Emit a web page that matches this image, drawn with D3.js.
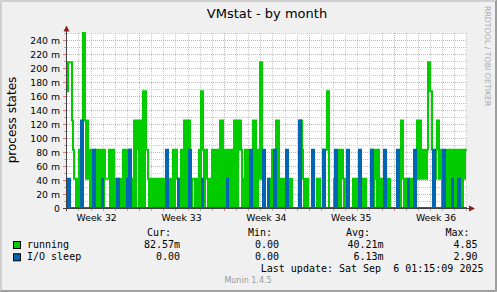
<!DOCTYPE html>
<html>
<head>
<meta charset="utf-8">
<script src="https://cdn.jsdelivr.net/npm/d3@7"></script>
<style>
body { margin: 0; background: #f0f0f0; }
svg text { font-family: "DejaVu Sans", sans-serif; fill: #000; }
svg text.mono { font-family: "DejaVu Sans Mono", monospace; font-size: 10px; white-space: pre; }
</style>
</head>
<body>
<svg id="chart" width="497" height="292"></svg>
<script>
// values, in 1/24 steps (2h averages of 5 min samples)
var runningLevels =
  "4555532110 1020006631 3120200020 2202020211 1120202010 0010102020 2022010303 2303204042 " +
  "2101010101 0101011000 0010102022 1001202303 3030011101 0120442022 1010120220 2023032020 " +
  "2020210303 0323201020 2000003032 0215510000 0010120203 0310101010 1010100000 0003321010 " +
  "1000000000 1010002022 4400000100 0020221010 0000001010 1001010110 0000220212 0210110000 " +
  "1010000000 0010331011 0001010001 3213212121 2554421212 3312100010 2020212020 2021202122";
var ioSleepLevels =
  "0110000000 0000330000 0000002200 0000010000 0000000000 1100000000 1022000000 0000000000 " +
  "0000000000 0000000002 2000000000 0100000000 0022000000 0000010000 0000000000 0000000000 " +
  "1000000000 0000000000 0002200000 0000002200 0100000220 0000000002 2000000000 0033000000 " +
  "0000022000 0000002200 0000000022 0000000000 2200000000 0022000000 0000220000 0000000220 " +
  "0000000000 2200000000 0100000220 0000000000 0000002200 0000002200 0000010000 0110000000";

var yTickValues = [0, 0.02, 0.04, 0.06, 0.08, 0.10, 0.12, 0.14, 0.16, 0.18, 0.20, 0.22, 0.24];
var legendNames = ["running", "I/O sleep"];
var legendColors = ["#00cc00", "#0066b3"];
var legendCur = ["82.57m", "0.00"];
var legendMin = ["0.00", "0.00"];
var legendAvg = ["40.21m", "6.13m"];
var legendMax = ["4.85", "2.90"];

var startTime = new Date(2025, 7, 5, 1, 15, 9);
var endTime = new Date(2025, 8, 7, 1, 15, 9);

function parseLevels(s) {
  return s.replace(/\s/g, "").split("").map(function (c) { return +c / 24; });
}
var running = parseLevels(runningLevels);
var ioSleep = parseLevels(ioSleepLevels);

var svg = d3.select("#chart");
var x = d3.scaleTime().domain([startTime, endTime]).range([67, 467]);
var y = d3.scaleLinear().domain([0, 0.25]).range([208, 33]);

// frame
svg.append("rect").attr("width", 497).attr("height", 292).attr("fill", "#f0f0f0");
svg.append("path").attr("d", "M0.5,291V0.5H496").attr("fill", "none").attr("stroke", "#cfcfcf");
svg.append("path").attr("d", "M1.5,290V1.5H495").attr("fill", "none").attr("stroke", "#cfcfcf");
svg.append("path").attr("d", "M1,290.5H495.5V1").attr("fill", "none").attr("stroke", "#9e9e9e");
svg.append("path").attr("d", "M0,291.5H496.5V0").attr("fill", "none").attr("stroke", "#9e9e9e");

svg.append("rect").attr("x", 67).attr("y", 33).attr("width", 400).attr("height", 175).attr("fill", "#fff");

// horizontal grid
var minorY = d3.range(1, 26).map(function (k) { return k / 100; });
svg.append("g").selectAll("line").data(minorY.filter(function (v, i) { return i % 2 === 0; }))
  .join("line")
  .attr("x1", 67).attr("x2", 467)
  .attr("y1", function (d) { return Math.round(y(d)) + 0.5; })
  .attr("y2", function (d) { return Math.round(y(d)) + 0.5; })
  .attr("stroke", "#c8c8c8").attr("stroke-dasharray", "1,1");
svg.append("g").selectAll("line").data(yTickValues.slice(1))
  .join("line")
  .attr("x1", 67).attr("x2", 467)
  .attr("y1", function (d) { return Math.round(y(d)) + 0.5; })
  .attr("y2", function (d) { return Math.round(y(d)) + 0.5; })
  .attr("stroke", "#f0a0a0").attr("stroke-dasharray", "1,1");

// vertical grid
var days = d3.timeDay.range(d3.timeDay.ceil(startTime), endTime);
var mondays = days.filter(function (d) { return d.getDay() === 1; });
var otherDays = days.filter(function (d) { return d.getDay() !== 1; });
svg.append("g").selectAll("line").data(otherDays)
  .join("line")
  .attr("x1", function (d) { return Math.round(x(d)) + 0.5; })
  .attr("x2", function (d) { return Math.round(x(d)) + 0.5; })
  .attr("y1", 33).attr("y2", 208)
  .attr("stroke", "#c8c8c8").attr("stroke-dasharray", "1,1");
svg.append("g").selectAll("line").data(mondays)
  .join("line")
  .attr("x1", function (d) { return Math.round(x(d)) + 0.5; })
  .attr("x2", function (d) { return Math.round(x(d)) + 0.5; })
  .attr("y1", 33).attr("y2", 208)
  .attr("stroke", "#f0a0a0").attr("stroke-dasharray", "1,1");

// series
var slotMs = (endTime - startTime) / running.length;
function points(vals) {
  var p = vals.map(function (v, i) { return { t: new Date(+startTime + i * slotMs), v: v }; });
  p.push({ t: endTime, v: vals[vals.length - 1] });
  return p;
}
var line = d3.line()
  .x(function (d) { return x(d.t); })
  .y(function (d) { return y(d.v); })
  .curve(d3.curveStepAfter);

svg.append("path").datum(points(running)).attr("d", line)
  .attr("fill", "none").attr("stroke", legendColors[0]).attr("stroke-width", 2);
svg.append("path").datum(points(ioSleep)).attr("d", line)
  .attr("fill", "none").attr("stroke", legendColors[1]).attr("stroke-width", 2);

// ticks
svg.append("g").selectAll("line").data(otherDays).join("line")
  .attr("x1", function (d) { return Math.round(x(d)) + 0.5; })
  .attr("x2", function (d) { return Math.round(x(d)) + 0.5; })
  .attr("y1", 209).attr("y2", 211).attr("stroke", "#b0b0b0");
svg.append("g").selectAll("line").data(mondays).join("line")
  .attr("x1", function (d) { return Math.round(x(d)) + 0.5; })
  .attr("x2", function (d) { return Math.round(x(d)) + 0.5; })
  .attr("y1", 209).attr("y2", 211).attr("stroke", "#f07070");
svg.append("g").selectAll("line").data(minorY.filter(function (v, i) { return i % 2 === 0; })).join("line")
  .attr("x1", 64).attr("x2", 66)
  .attr("y1", function (d) { return Math.round(y(d)) + 0.5; })
  .attr("y2", function (d) { return Math.round(y(d)) + 0.5; })
  .attr("stroke", "#b0b0b0");
svg.append("g").selectAll("line").data(yTickValues.slice(1)).join("line")
  .attr("x1", 63).attr("x2", 66)
  .attr("y1", function (d) { return Math.round(y(d)) + 0.5; })
  .attr("y2", function (d) { return Math.round(y(d)) + 0.5; })
  .attr("stroke", "#f07070");

// axes
svg.append("line").attr("x1", 66.5).attr("x2", 66.5).attr("y1", 211).attr("y2", 30).attr("stroke", "#404040");
svg.append("line").attr("x1", 63).attr("x2", 470).attr("y1", 208.5).attr("y2", 208.5).attr("stroke", "#404040");
svg.append("path").attr("d", "M63.5,31.5L66.5,25.5L69.5,31.5Z").attr("fill", "#8b1c1c");
svg.append("path").attr("d", "M469,205.5L475,208.5L469,211.5Z").attr("fill", "#8b1c1c");

// labels
svg.append("g").selectAll("text").data(yTickValues).join("text")
  .attr("x", 60).attr("y", function (d) { return y(d) + 3.5; })
  .attr("text-anchor", "end").attr("font-size", "9.3px")
  .text(function (d) { return d === 0 ? "0" : Math.round(d * 1000) + " m"; });

var weekFmt = d3.timeFormat("%V");
var weeks = d3.timeMonday.range(d3.timeMonday.floor(startTime), endTime)
  .map(function (m) { return d3.timeHour.offset(m, 84); })
  .filter(function (c) { return c > startTime && c < endTime; });
svg.append("g").selectAll("text").data(weeks).join("text")
  .attr("x", function (d) { return x(d); }).attr("y", 220.5)
  .attr("text-anchor", "middle").attr("font-size", "9.3px")
  .text(function (d) { return "Week " + (+weekFmt(d)); });

svg.append("text").attr("x", 267).attr("y", 17.5).attr("text-anchor", "middle")
  .attr("font-size", "13px").text("VMstat - by month");
svg.append("text").attr("transform", "translate(15.5,120) rotate(-90)")
  .attr("text-anchor", "middle").attr("font-size", "12px").text("process states");
svg.append("text").attr("transform", "translate(484.5,6) rotate(90)")
  .attr("font-size", "7.8px").style("fill", "#aaaaaa").text("RRDTOOL / TOBI OETIKER");

// legend
var headX = [171, 272, 370, 469.5];
["Cur:", "Min:", "Avg:", "Max:"].forEach(function (h, i) {
  svg.append("text").attr("class", "mono").attr("x", headX[i]).attr("y", 235.7)
    .attr("text-anchor", "end").text(h);
});
var colX = [180, 279, 383.5, 477.5];
var rowY = [248, 260.3];
legendNames.forEach(function (name, r) {
  svg.append("rect").attr("x", 13.5).attr("y", rowY[r] - 6.5).attr("width", 7).attr("height", 7)
    .attr("fill", legendColors[r]).attr("stroke", "#000");
  svg.append("text").attr("class", "mono").attr("x", 27).attr("y", rowY[r]).text(name);
  [legendCur[r], legendMin[r], legendAvg[r], legendMax[r]].forEach(function (v, i) {
    svg.append("text").attr("class", "mono").attr("x", colX[i]).attr("y", rowY[r])
      .attr("text-anchor", "end").text(v);
  });
});
svg.append("text").attr("class", "mono").attr("x", 483.5).attr("y", 272.3)
  .attr("text-anchor", "end").text("Last update:  Sat Sep  6 01:15:09 2025".replace("  Sat", " Sat"));
svg.append("text").attr("x", 248).attr("y", 283.3).attr("text-anchor", "middle")
  .attr("font-size", "8px").style("fill", "#999999").text("Munin 1.4.5");
</script>
</body>
</html>
